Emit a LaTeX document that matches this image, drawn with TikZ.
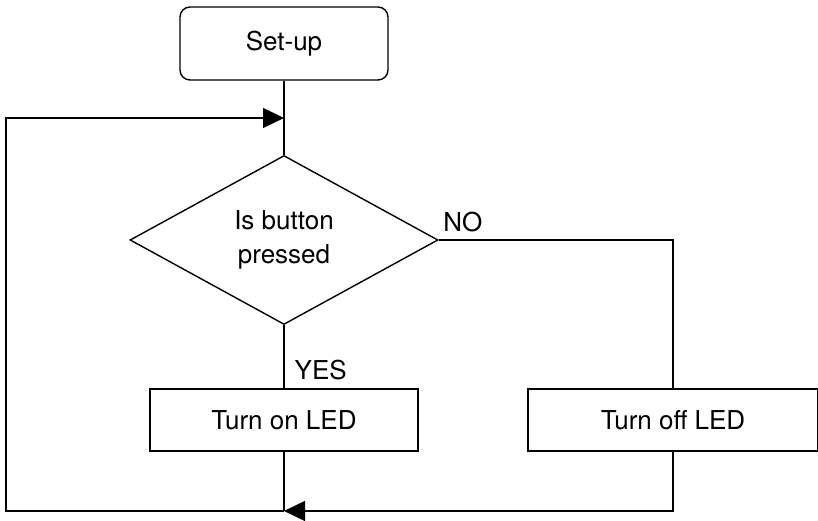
\documentclass[tikz,border=0pt]{standalone}
\usepackage{fontspec}
\setmainfont{TeX Gyre Heros}
\usetikzlibrary{shapes.geometric,arrows.meta}
\begin{document}
\begin{tikzpicture}[x=1pt,y=1pt,
  line width=1.4pt,
  every node/.style={font=\fontsize{26}{34}\selectfont},
  procbox/.style={draw, rectangle, minimum height=62pt, inner sep=0pt},
  startbox/.style={draw, rectangle, rounded corners=10pt, minimum width=208pt, minimum height=73pt, inner sep=0pt},
  decbox/.style={draw, diamond, minimum width=308pt, minimum height=169pt, inner sep=0pt, align=center},
  lbl/.style={inner sep=0pt, anchor=base west},
  arr/.style={-{Triangle[length=21pt,width=20pt]}}
]
\useasboundingbox (0,0) rectangle (818,521);
\node[startbox] (setup) at (284,477.5) {Set-up};
\node[decbox] (dec) at (284,281) {Is button\\pressed};
\node[procbox, minimum width=268pt] (on) at (284,101) {Turn on LED};
\node[procbox, minimum width=290pt] (off) at (673,101) {Turn off LED};
\coordinate (j1) at (284,403);
\coordinate (j2) at (284,10);
\coordinate (lb) at (6,10);
\coordinate (lt) at (6,403);
\coordinate (nr) at (673,281);
\draw (setup.south) -- (dec.north);
\draw[arr] (j2) -- (lb) -- (lt) -- (j1);
\draw (dec.east) -- (nr) -- (off.north);
\node[lbl] (no) at ([shift={(4,8)}]dec.east) {NO};
\draw (dec.south) -- (on.north);
\node[lbl] (yes) at ([shift={(10,9)}]on.north) {YES};
\draw (on.south) -- (j2);
\draw[arr] (off.south) |- (j2);
\end{tikzpicture}
\end{document}
